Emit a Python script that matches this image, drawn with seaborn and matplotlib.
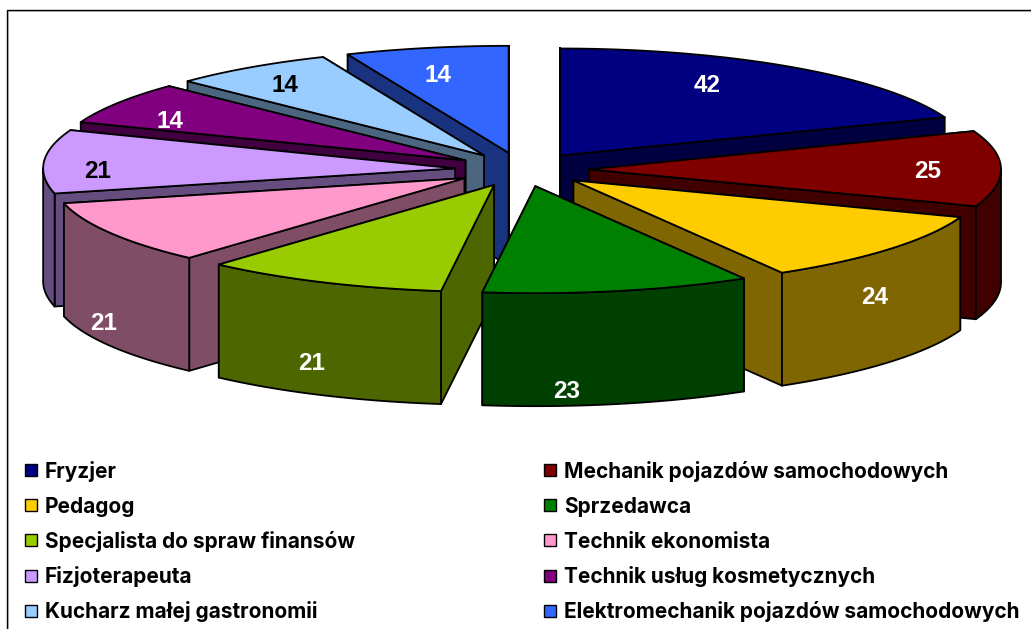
import numpy as np
import matplotlib
matplotlib.use("Agg")
import matplotlib.pyplot as plt
from matplotlib.patches import Patch, Polygon, Rectangle
import seaborn as sns

categories = ["Fryzjer", "Mechanik pojazdów samochodowych", "Pedagog", "Sprzedawca",
              "Specjalista do spraw finansów", "Technik ekonomista", "Fizjoterapeuta",
              "Technik usług kosmetycznych", "Kucharz małej gastronomii",
              "Elektromechanik pojazdów samochodowych"]
values = [42, 25, 24, 23, 21, 21, 21, 14, 14, 14]
colors = ["#000080", "#800000", "#FFCC00", "#008000", "#99CC00",
          "#FF99CC", "#CC99FF", "#800080", "#99CCFF", "#3366FF"]
label_xy = [(707, 86), (928, 172), (875, 298), (567, 391), (312, 363),
            (104, 323), (98, 172), (170, 121), (285, 86), (438, 75)]
label_colors = ["white", "white", "white", "white", "white",
                "white", "black", "white", "black", "white"]

# Pie projection (pixels)
CX, CY = 522, 169.5
RX, RY = 412, 107
EX, EY = 67, 17
DEPTH = 113

sns.set_theme(style="white")
palette = sns.color_palette(colors)
plt.rcParams["font.family"] = ["Liberation Sans", "DejaVu Sans"]

fig = plt.figure(figsize=(10.31, 6.29), dpi=100)
ax = fig.add_axes([0, 0, 1, 1])
ax.set_xlim(0, 1031)
ax.set_ylim(629, 0)
ax.axis("off")

# chart frame (runs off the right and bottom of the picture)
ax.plot([8, 8, 1031], [629, 11, 11], color="#c0c0c0", lw=1.2, zorder=0)
ax.plot([7, 7, 1031], [629, 10, 10], color="black", lw=1.0, zorder=0.5)

total = sum(values)
edges = np.concatenate([[0], np.cumsum(values)]) / total * 360.0
wedges = []
for i in range(len(values)):
    t0, t1 = edges[i], edges[i + 1]
    mid = np.radians((t0 + t1) / 2)
    apex = np.array([CX + EX * np.sin(mid), CY - EY * np.cos(mid)])
    wedges.append((-np.cos(mid), i, t0, t1, apex))


def rim(apex, t0, t1):
    th = np.radians(np.linspace(t0, t1, max(3, int(t1 - t0) * 2)))
    return np.column_stack([apex[0] + RX * np.sin(th), apex[1] - RY * np.cos(th)])


def draw(points, color, z):
    ax.add_patch(Polygon(points, closed=True, facecolor=color, edgecolor="black",
                         lw=1.3, joinstyle="round", zorder=z))


z = 1.0
down = np.array([0, DEPTH])
for _, i, t0, t1, apex in sorted(wedges, key=lambda w: w[0]):
    col = palette[i]
    dark = tuple(c * 0.5 for c in col)
    arc = rim(apex, t0, t1)
    faces = [np.array([apex, arc[0], arc[0] + down, apex + down]),
             np.array([apex, arc[-1], arc[-1] + down, apex + down])]
    faces.sort(key=lambda f: f[:2, 1].mean())
    for f in faces:
        draw(f, dark, z)
        z += 0.01
    a0, a1 = max(t0, 90), min(t1, 270)
    if a1 > a0:
        r = rim(apex, a0, a1)
        draw(np.vstack([r, (r + down)[::-1]]), dark, z)
        z += 0.01
    draw(np.vstack([apex, arc]), col, z)
    z += 0.01

for (x, y), v, c in zip(label_xy, values, label_colors):
    ax.text(x, y, str(v), ha="center", va="center", color=c, fontsize=17.5,
            fontweight="bold", zorder=50)

FS = 15.0
fs_px = FS * 100 / 72
ROW = 35.2
BOX_PT = 12 * 72 / 100
hh = (ROW / fs_px - 0.245) / 0.65


class SquareHandler:
    """Legend key: fixed square centred on the cap height of the label."""

    def legend_artist(self, legend, orig, fontsize, handlebox):
        cy = 0.36 * fontsize
        r = Rectangle((0, cy - BOX_PT / 2), BOX_PT, BOX_PT, facecolor=orig.get_facecolor(),
                      edgecolor="black", lw=1.0, transform=handlebox.get_transform())
        handlebox.add_artist(r)
        return r


baseline = 470 + 0.36 * fs_px
descent = 0.35 * fs_px * (hh - 0.7)
top = baseline - (ROW - descent)


def make_legend(idx, x):
    handles = [Patch(facecolor=palette[i], label=categories[i]) for i in idx]
    leg = ax.legend(handles=handles, ncol=1, loc="upper left",
                    bbox_to_anchor=(x, top), bbox_transform=ax.transData,
                    frameon=False, borderpad=0, borderaxespad=0,
                    prop={"family": "Inter", "weight": "bold", "size": FS},
                    handler_map={Patch: SquareHandler()},
                    handlelength=12 / fs_px, handleheight=hh,
                    handletextpad=8 / fs_px, labelspacing=0, labelcolor="black")
    return leg


ax.add_artist(make_legend([0, 2, 4, 6, 8], 25))
make_legend([1, 3, 5, 7, 9], 544)

fig.savefig("out.png", dpi=100, facecolor="white")
